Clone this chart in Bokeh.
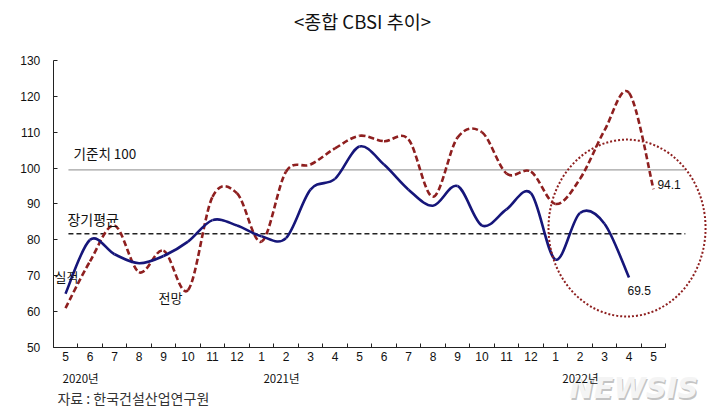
from bokeh.plotting import figure
from bokeh.models import Label, FixedTicker, Range1d, LinearAxis
from bokeh.embed import file_html
from bokeh.resources import INLINE

# ---- data ----
months = ["5", "6", "7", "8", "9", "10", "11", "12",
          "1", "2", "3", "4", "5", "6", "7", "8", "9", "10", "11", "12",
          "1", "2", "3", "4", "5"]
actual = [65, 80, 76, 73.5, 75.5, 79.5, 85.5, 84, 81, 80.5, 94, 97, 106, 101,
          94, 89.5, 95, 84, 88.5, 93, 74.5, 87.5, 84.5, 69.5]
forecast = [61, 74, 84, 71, 77, 66, 92, 93, 79.5, 99, 101, 105.5, 109, 107.5,
            108, 92, 108.5, 110, 98.5, 99, 90, 97, 110.5, 121, 94.1]
year_labels = ["2020년", "2021년", "2022년"]
year_month_idx = [0, 8, 20]
baseline_level = 99.5     # 기준치 100 line as drawn
long_avg_level = 81.7     # 장기평균
y_ticks = [50, 60, 70, 80, 90, 100, 110, 120, 130]

BLUE = "#16167a"
RED = "#8e1f1f"
AX = "#222222"
KFONT = "Noto Sans CJK KR"
NFONT = "Liberation Sans"


def smooth_segments(ys):
    xs = list(range(len(ys)))
    n = len(ys)
    out = dict(x0=[], y0=[], x1=[], y1=[], cx0=[], cy0=[], cx1=[], cy1=[])
    for i in range(n - 1):
        a = i - 1 if i > 0 else i
        d = i + 2 if i + 2 < n else i + 1
        out["x0"].append(xs[i]); out["y0"].append(ys[i])
        out["x1"].append(xs[i + 1]); out["y1"].append(ys[i + 1])
        out["cx0"].append(xs[i] + (xs[i + 1] - xs[a]) / 6)
        out["cy0"].append(ys[i] + (ys[i + 1] - ys[a]) / 6)
        out["cx1"].append(xs[i + 1] - (xs[d] - xs[i]) / 6)
        out["cy1"].append(ys[i + 1] - (ys[d] - ys[i]) / 6)
    return out


p = figure(width=720, height=418, output_backend="svg", toolbar_location=None,
           x_range=Range1d(-2.653, 26.735), y_range=Range1d(30.21, 146.72),
           x_axis_location=None, y_axis_location=None,
           min_border_left=0, min_border_right=0, min_border_top=0,
           min_border_bottom=0)
p.outline_line_color = None
p.background_fill_color = "white"
p.border_fill_color = "white"
p.grid.visible = False

# axes (placed at data positions, bounded)
ya = LinearAxis(fixed_location=-0.5, bounds=(50, 130))
ya.ticker = FixedTicker(ticks=y_ticks)
ya.major_tick_in = 4
ya.major_tick_out = 0
ya.minor_tick_line_color = None
ya.axis_line_color = AX
ya.major_tick_line_color = AX
ya.major_label_text_font = NFONT
ya.major_label_text_font_size = "12px"
ya.major_label_text_color = "#111111"
ya.major_label_standoff = 13
p.add_layout(ya, "left")

xa = LinearAxis(fixed_location=50, bounds=(-0.5, len(months) - 0.5))
xa.ticker = FixedTicker(ticks=list(range(len(months))),
                        minor_ticks=[i - 0.5 for i in range(len(months) + 1)])
xa.major_label_overrides = {i: m for i, m in enumerate(months)}
xa.major_tick_in = 0
xa.major_tick_out = 0
xa.minor_tick_in = 4
xa.minor_tick_out = 0
xa.minor_tick_line_color = AX
xa.axis_line_color = AX
xa.major_label_text_font = NFONT
xa.major_label_text_font_size = "12px"
xa.major_label_text_color = "#111111"
xa.major_label_standoff = 5
p.add_layout(xa, "below")

# reference lines
p.segment(x0=[0.12], y0=[baseline_level], x1=[25.3], y1=[baseline_level],
          line_color="#8a8a8a", line_width=1)
p.segment(x0=[0.12], y0=[long_avg_level], x1=[25.3], y1=[long_avg_level],
          line_color=AX, line_width=1.3, line_dash="5 3")

# series
fs = smooth_segments(forecast)
p.bezier(line_color=RED, line_width=2.6, line_dash="6 3", **fs)
acs = smooth_segments(actual)
p.bezier(line_color=BLUE, line_width=2.6, **acs)

# highlight circle
p.ellipse(x=[22.92], y=[83.3], width=[6.41], height=[49.3],
          fill_color=None, line_color=RED, line_width=2, line_dash="2 2")


def lab(x, y, t, size, font=KFONT, align="left", color="#111111", style="normal",
        xo=0, yo=0):
    p.add_layout(Label(x=x, y=y, text=t, text_font=font, text_font_size=size,
                       text_align=align, text_baseline="middle",
                       text_color=color, text_font_style=style,
                       x_offset=xo, y_offset=yo))


lab(0.33, 104.3, "기준치 100", "13.5px")
lab(0.08, 85.7, "장기평균", "14px")
lab(-0.45, 69.8, "실적", "13px")
lab(3.8, 63.9, "전망", "13px")
lab(len(forecast) - 1 + 0.16, 95.4, f"{forecast[-1]}", "12px", font=NFONT)
lab(len(actual) - 1 - 0.06, 65.9, f"{actual[-1]}", "12px", font=NFONT)

# title
lab(12.12, 141.1, "<종합 CBSI 추이>", "18.5px", align="center")

# watermark (behind the year labels)
lab(23.2, 38.6, "NEWSIS", "29px", font="DejaVu Sans", align="center",
    color="#c4c4c4", style="bold italic", xo=1.2, yo=-1.2)
lab(23.2, 38.6, "NEWSIS", "29px", font="DejaVu Sans", align="center",
    color="#f4f4f4", style="bold italic")

for yl, yi, off in zip(year_labels, year_month_idx, [-0.12, 0.08, 0.28]):
    lab(yi + off, 41.4, yl, "11.5px")
lab(-0.33, 35.8, "자료 : 한국건설산업연구원", "14px", color="#333333")

open("out.html", "w").write(file_html(p, INLINE))
